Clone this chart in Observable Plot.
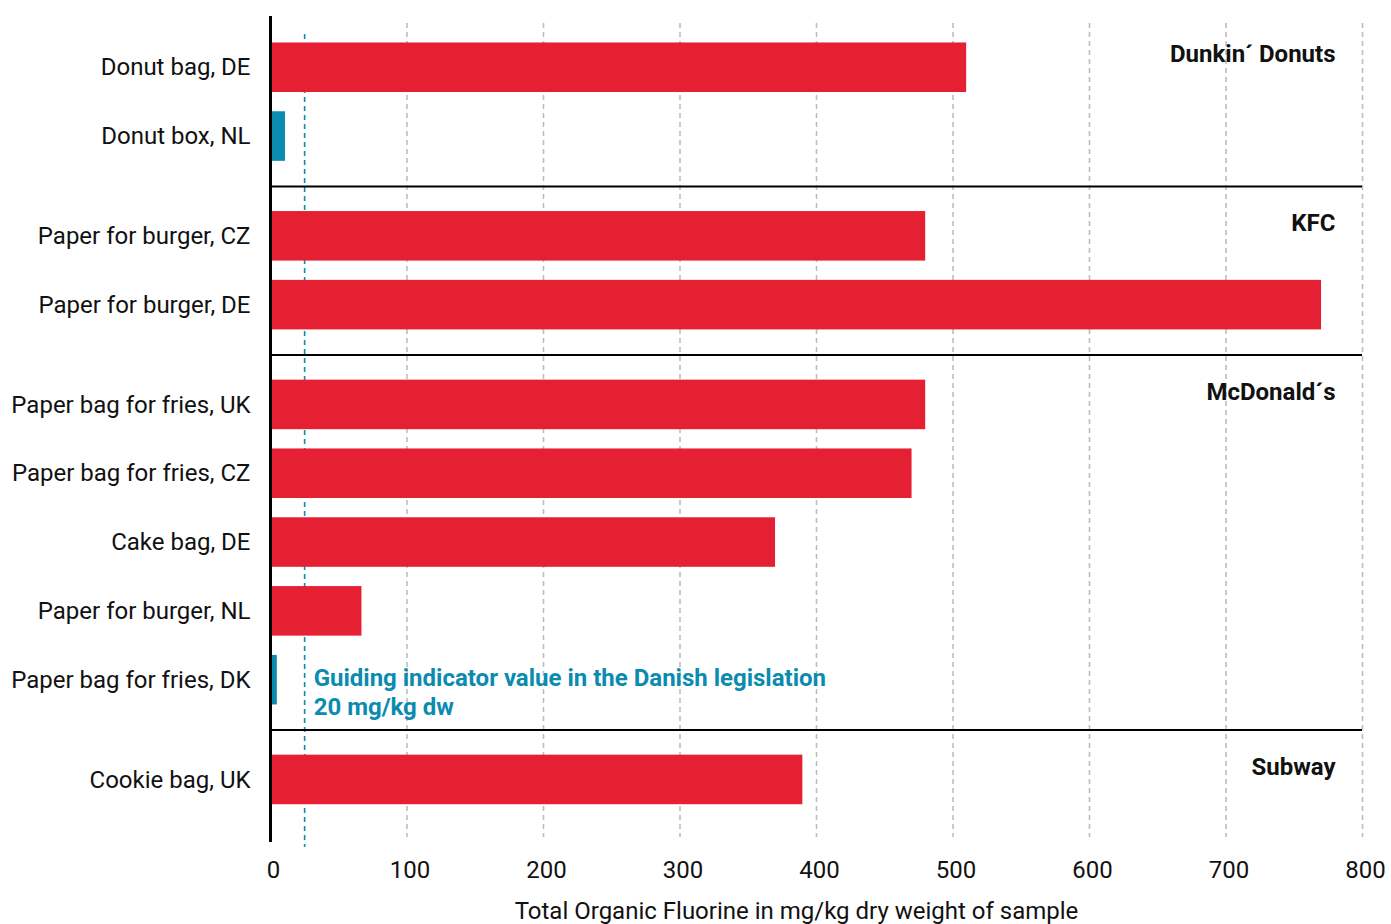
<!DOCTYPE html>
<html>
<head>
<meta charset="utf-8">
<script src="https://cdn.jsdelivr.net/npm/d3@7"></script>
<script src="https://cdn.jsdelivr.net/npm/@observablehq/plot@0.6"></script>
<style>
  html, body { margin: 0; padding: 0; background: #fff; }
  #chart svg { display: block; }
</style>
</head>
<body>
<div id="chart"></div>
<script>
// ---- data ----
const brands = ["Dunkin´ Donuts", "KFC", "McDonald´s", "Subway"];
const samples = [
  "Donut bag, DE", "Donut box, NL",
  "Paper for burger, CZ", "Paper for burger, DE",
  "Paper bag for fries, UK", "Paper bag for fries, CZ", "Cake bag, DE", "Paper for burger, NL", "Paper bag for fries, DK",
  "Cookie bag, UK"
];
const sampleBrand = [0, 0, 1, 1, 2, 2, 2, 2, 2, 3];
const tof = [510, 11, 480, 770, 480, 470, 370, 67, 5, 390];
const xTicks = [0, 100, 200, 300, 400, 500, 600, 700, 800];
const limitValue = 25;
const limitLabel = "Guiding indicator value in the Danish legislation\n20 mg/kg dw";
const xLabel = "Total Organic Fluorine in mg/kg dry weight of sample";

// ---- layout derived from data ----
const groupGap = 0.45;
const rows = samples.map((name, i) => ({
  name, value: tof[i], brand: brands[sampleBrand[i]],
  pos: i + sampleBrand[i] * groupGap,
  low: tof[i] < limitValue
}));
const groupStarts = brands.map((b) => rows.find(r => r.brand === b));
const separators = brands.slice(1).map((b, g) => {
  const prev = rows.filter(r => r.brand === brands[g]).at(-1);
  const next = rows.find(r => r.brand === b);
  return (prev.pos + next.pos) / 2;
});
const lastPos = rows.at(-1).pos;

const RED = "#e42032";
const BLUE = "#0b8baf";
const half = 0.36;
const FS = 24;

const chart = Plot.plot({
  width: 1391,
  height: 924,
  marginLeft: 270,
  marginRight: 29,
  marginTop: 17,
  marginBottom: 84,
  style: { fontFamily: "Roboto, sans-serif", fontSize: FS + "px", color: "#111", background: "#fff" },
  x: { domain: [0, 800] },
  y: { domain: [-0.73, lastPos + 0.88], range: [17, 840], axis: null },
  marks: [
    Plot.ruleX(xTicks.filter(d => d > 0), { stroke: "#bdbdbd", strokeWidth: 1.6, strokeDasharray: "5,4", insetTop: 6, insetBottom: 3 }),
    Plot.ruleX([limitValue], { stroke: BLUE, strokeWidth: 1.6, strokeDasharray: "5,4", insetTop: 17, insetBottom: -7 }),
    Plot.rectX(rows, {
      x1: 0, x2: "value",
      y1: d => d.pos - half, y2: d => d.pos + half,
      fill: d => d.low ? BLUE : RED
    }),
    Plot.ruleY(separators, { x1: 0, x2: 800, stroke: "#000", strokeWidth: 2 }),
    Plot.ruleX([0], { stroke: "#000", strokeWidth: 3, insetTop: -1, insetBottom: -2 }),
    Plot.text(rows, { x: 0, y: "pos", text: "name", textAnchor: "end", dx: -20, fill: "#111", fontSize: FS }),
    Plot.text(groupStarts, { x: 800, y: "pos", text: "brand", textAnchor: "end", dx: -27, dy: -13, fontWeight: "bold", fill: "#111", fontSize: FS }),
    Plot.text([rows.find(r => r.name === "Paper bag for fries, DK")], {
      x: limitValue, y: "pos", text: () => limitLabel, textAnchor: "start", dx: 9, dy: 11,
      lineHeight: 1.22, fill: BLUE, fontWeight: "bold", fontSize: FS
    }),
    Plot.axisX(xTicks, { tickSize: 0, tickPadding: 20, fontSize: FS, fill: "#111", label: null, dx: 3 }),
    Plot.text([xLabel], { frameAnchor: "bottom", dy: 78, dx: -20, fill: "#111", fontSize: FS })
  ]
});
document.getElementById("chart").appendChild(chart);
</script>
</body>
</html>
